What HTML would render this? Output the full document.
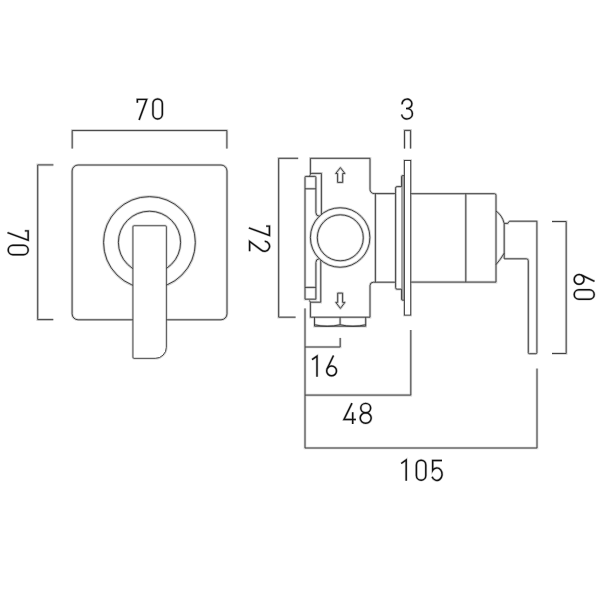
<!DOCTYPE html>
<html><head><meta charset="utf-8"><title>Dimensions</title>
<style>
html,body{margin:0;padding:0;background:#fff;width:600px;height:600px;overflow:hidden;font-family:"Liberation Sans",sans-serif;}
svg{display:block;}
</style></head>
<body>
<svg width="600" height="600" viewBox="0 0 600 600">
<defs>
<g id="g0"><rect x="0.8" y="0.8" width="9.4" height="20.0" rx="4.7" ry="4.7"/></g>
<g id="g7"><path d="M0.85,4.2 V0.85 H10.15 L2.6,21.5"/></g>
<g id="g1"><path d="M0.75,4.3 L5.75,0.75 V21.5"/></g>
<g id="g6"><path d="M8.0,0.5 L1.676,13.795"/><circle cx="6.1" cy="15.9" r="4.9"/></g>
<g id="g8"><ellipse cx="6.5" cy="5.55" rx="4.95" ry="4.7"/><ellipse cx="6.5" cy="15.55" rx="5.5" ry="5.2"/></g>
<g id="g4"><path d="M8.75,0.6 L0.75,17 H12.65 M9.45,9.8 V21.5"/></g>
<g id="g3"><path d="M1.33,6.3 A4.9,4.7 0 1 1 6.2,10.5 H5.2 M6.2,10.5 A5.4,5.2 0 1 1 0.86,16.5"/></g>
<g id="g5"><path d="M10.5,0.8 H1.17 V10.7 A5.25,6.25 0 1 1 0.58,17.0"/></g>
<g id="g2"><path d="M0.6,5.5 A5,5 0 1 1 9.38,8.91 L0.75,20.6 H10.6"/></g>
<g id="drw" fill="none" stroke-linejoin="miter">
  <!-- front view -->
  <path d="M72.2,148.6 V130.45 H226.9 V148.6"/>
  <path d="M53.4,164.9 H37.7 V319.6 H53.3"/>
  <rect x="72.1" y="165" width="154.9" height="154.8" rx="6" ry="6"/>
  <circle cx="149.45" cy="242.5" r="45.9"/>
  <circle cx="149.5" cy="242.3" r="31.1"/>
  <path fill="#fff" d="M133,226.8 A1,1 0 0 1 134,225.8 H165.3 A1,1 0 0 1 166.3,226.8 V347.3 A11,11 0 0 1 155.3,358.3 H134 A1,1 0 0 1 133,357.3 Z"/>

  <!-- side view dims -->
  <path d="M298.2,158.3 H278.65 V317.2 H295.6"/>
  <path d="M404.5,148.6 V130.4 H410.6 V148.6"/>
  <path d="M552,221.5 H566.2 V353.5 H552"/>
  <path d="M305,308.4 V448 H537 V368.6"/>
  <path d="M410.8,330 V395.1 H305"/>
  <path d="M340.2,337.9 V347 H305"/>

  <!-- body -->
  <path d="M309.4,176.4 L310.4,174.6 V158.3 H370 V189.3 A4.2,4.2 0 0 0 374.2,193.6 H395.6"/>
  <path d="M310.4,173.4 H321.4 V214.2"/>
  <path d="M315.9,262.5 V299.2 H305 V177.4 A1,1 0 0 1 306,176.4 H314.9 A1,1 0 0 1 315.9,177.4 V212.5 Q315.9,216 319.6,216.3"/>
  <path d="M315.9,262.5 Q315.9,259 319.3,258.7"/>
  <path d="M305,188.8 H315.9 M305,287.4 H315.9"/>
  <path d="M320.75,260.1 V302.2 H310.4 L309.4,300.4 M310.4,302.2 V317.2 H370 V285.5 A3.5,3.5 0 0 1 373.5,282.2 H395.6"/>
  <path d="M375.4,193.6 V282.2"/>
  <circle cx="340.15" cy="237.5" r="29.75"/>
  <circle cx="340.3" cy="237.8" r="23.0"/>
  <path stroke-linejoin="round" d="M340.4,167.6 L344.9,173.5 H342.7 V182.4 H337.6 V173.5 H335.7 Z"/>
  <path stroke-linejoin="round" d="M337.7,293.1 H342.6 V302.4 H344.9 L340.4,308.4 L335.8,302.4 H337.7 Z"/>
  <path d="M314.5,317.2 V326.2 H365.7 V317.2 M340.1,317.2 V324.7 M314.5,324.7 Q327.3,327.9 340.1,324.7 Q352.9,327.9 365.7,324.7"/>

  <!-- washer / plate -->
  <rect x="401.2" y="175.6" width="3.1" height="124.6" rx="0.8" fill="#a3a3a3" stroke="none"/>
  <path d="M395.6,193.6 V188.2 A1.5,1.5 0 0 1 397.1,186.6 H401.6 V176.6 A1,1 0 0 1 402.6,175.6 H404.3"/>
  <path d="M395.6,282.2 V287.7 A1.5,1.5 0 0 0 397.1,289.2 H401.6 V299.2 A1,1 0 0 0 402.6,300.2 H404.3"/>
  <path d="M395.6,193.6 V282.2"/>
  <rect x="404.4" y="160.5" width="6.3" height="154.6" fill="#fff"/>

  <!-- handle body -->
  <path d="M410.6,193.7 H494.5 Q496,193.7 496,195.2 V282.1 H410.6"/>
  <path d="M465.8,193.7 V282.1"/>
  <path d="M496,211 Q502,215 504.2,223.4 V258.8 M504.2,253.2 Q500.5,259.5 496,264.6"/>
  <path d="M504.2,223.4 H507.8 Q508.8,221.2 509.8,221.2 H536.9 V352.8 A1,1 0 0 1 535.9,353.7 H529.3 A1,1 0 0 1 528.3,352.7 V260.8 Q528.3,258.8 526.3,258.8 H504.2"/>
</g>
<g id="txt" fill="none" stroke-linecap="butt" stroke-linejoin="miter">
  <use href="#g7" transform="translate(136.5,98.5)"/>
  <use href="#g0" transform="translate(152.15,98.1)"/>
  <use href="#g7" transform="translate(29,230) rotate(90)"/>
  <use href="#g0" transform="translate(29,244.5) rotate(90)"/>
  <use href="#g3" transform="translate(400.8,98)"/>
  <use href="#g7" transform="translate(270.3,225.25) rotate(90)"/>
  <use href="#g2" transform="translate(270.2,240.7) rotate(90)"/>
  <use href="#g6" transform="translate(595,273.3) rotate(90)"/>
  <use href="#g0" transform="translate(595,289) rotate(90)"/>
  <use href="#g1" transform="translate(311.25,355.35)"/>
  <use href="#g6" transform="translate(325.5,355)"/>
  <use href="#g4" transform="translate(343.25,402.5)"/>
  <use href="#g8" transform="translate(359.2,402.5)"/>
  <use href="#g1" transform="translate(400.45,459.2)"/>
  <use href="#g0" transform="translate(415.6,459.4)"/>
  <use href="#g5" transform="translate(431.5,459.7)"/>
</g>
</defs>



<use href="#drw" stroke="#d0d0d0" stroke-width="2.6"/>
<use href="#drw" stroke="#333" stroke-width="0.9"/>
<!-- text glyphs -->
<use href="#txt" stroke="#cccccc" stroke-width="2.7"/>
<use href="#txt" stroke="#111" stroke-width="1.45"/>
</svg>
</body></html>
